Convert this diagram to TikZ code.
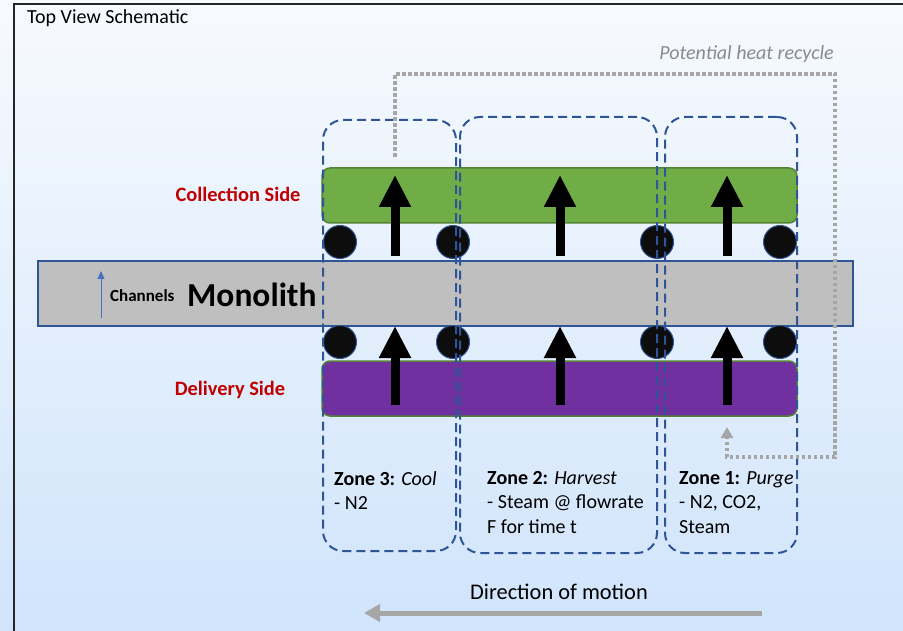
\documentclass[tikz,border=0pt]{standalone}
\usepackage{fontspec}
\setmainfont{Carlito}
\usetikzlibrary{arrows.meta}
\definecolor{bgtop}{HTML}{F7FAFE}
\definecolor{bgbot}{HTML}{D0E4FB}
\definecolor{zoneblue}{HTML}{2F5597}
\definecolor{monogray}{HTML}{BFBFBF}
\definecolor{collgreen}{HTML}{70AD47}
\definecolor{darkgreen}{HTML}{548235}
\definecolor{delpurple}{HTML}{7030A0}
\definecolor{sidered}{HTML}{C00000}
\definecolor{recgray}{HTML}{A6A6A6}
\definecolor{labgray}{HTML}{8A8A8A}
\definecolor{chanblue}{HTML}{4472C4}
\definecolor{framedark}{HTML}{262626}
\tikzset{
  monobox/.style={draw=zoneblue, line width=1.5pt, fill=monogray, minimum width=815pt, minimum height=65pt, inner sep=0pt},
  sidebox/.style={draw=darkgreen, line width=1.5pt, rounded corners=8pt, minimum width=475pt, minimum height=55pt, inner sep=0pt},
  roller/.style={circle, draw=zoneblue, line width=1pt, fill=black!95, minimum size=33pt, inner sep=0pt},
  zonebox/.style={draw=zoneblue, line width=2pt, dash pattern=on 9pt off 5pt, rounded corners=20pt, inner sep=0pt},
  flowarrow/.style={line width=9pt, -{Triangle[width=30pt 0, length=32pt 0]}},
  recycle/.style={draw=recgray, line width=3.5pt, dash pattern=on 3.5pt off 2.5pt, -{Triangle[width=12pt 0, length=11pt 0]}},
  zonetext/.style={anchor=north west, align=left, inner sep=0pt, font=\fontsize{20}{24.5}\selectfont},
  sidelabel/.style={text=sidered, font=\fontsize{20.4}{22}\selectfont\bfseries},
}
\begin{document}
\begin{tikzpicture}[x=1pt, y=-1pt]
  \useasboundingbox (0,0) rectangle (903,631);
  % backdrop and frame
  \shade[top color=bgtop, bottom color=bgbot] (0,0) rectangle (903,631);
  \draw[framedark, line width=2pt] (14,631) -- (14,4) -- (903,4);
  \node[anchor=west, inner sep=0pt, font=\fontsize{20}{22}\selectfont] (title) at (27,18) {Top View Schematic};

  % monolith, collection and delivery sides
  \node[monobox] (mono) at (445.5,293.5) {};
  \node[sidebox, fill=collgreen] (coll) at (559.5,195.5) {};
  \node[sidebox, fill=delpurple] (deliv) at (559.5,388.5) {};

  \node[sidelabel] (colllab) at (238,194) {Collection Side};
  \node[sidelabel] (delivlab) at (230,390) {Delivery Side};
  \node[anchor=west, inner sep=0pt, font=\fontsize{33.5}{36}\selectfont\bfseries] (monolab) at (187,295) {Monolith};
  \node[anchor=west, inner sep=0pt, font=\fontsize{17}{19}\selectfont\bfseries] (chanlab) at (110,296) {Channels};
  \coordinate (chanbot) at (101,318);
  \coordinate (chantop) at (101,271);
  \draw[chanblue, line width=1pt, -{Triangle[width=7pt 0, length=8pt 0]}] (chanbot) -- (chantop);

  % rollers on both sides of the monolith
  \foreach \x/\n in {340/a,453/b,657/c,780/d}{
    \node[roller] (rt\n) at (\x,242) {};
    \node[roller] (rb\n) at (\x,342) {};
  }

  % gas flow through the channels
  \foreach \x/\n in {395/a,560/b,727/c}{
    \coordinate (fdb\n) at (\x,405);
    \coordinate (fdt\n) at (\x,326);
    \coordinate (fcb\n) at (\x,256);
    \coordinate (fct\n) at (\x,175);
    \draw[flowarrow] (fdb\n) -- (fdt\n);
    \draw[flowarrow] (fcb\n) -- (fct\n);
  }

  % process zones
  \node[zonebox, minimum width=133pt, minimum height=431pt] (zone3) at (389.5,335.5) {};
  \node[zonebox, minimum width=197pt, minimum height=436pt] (zone2) at (558.5,335) {};
  \node[zonebox, minimum width=132pt, minimum height=436pt] (zone1) at (731,335) {};

  \node[zonetext] (z3txt) at (334,471) {\textbf{Zone 3:} \textit{Cool}\\- N2};
  \node[zonetext] (z2txt) at (487,471) {\textbf{Zone 2:} \textit{Harvest}\\- Steam @ flowrate\\F for time t};
  \node[zonetext] (z1txt) at (679,471) {\textbf{Zone 1:} \textit{Purge}\\- N2, CO2,\\Steam};

  % heat recycle loop
  \coordinate (rs) at (395,157);
  \coordinate (rtop) at (835,74);
  \coordinate (rbot) at (727,457);
  \coordinate (rend) at (727,427);
  \draw[recycle] (rs) |- (rtop) |- (rbot) -- (rend);
  \node[anchor=east, inner sep=0pt, text=labgray, font=\fontsize{20}{22}\selectfont\itshape] (reclab) at (834,54) {Potential heat recycle};

  % direction of motion
  \node[inner sep=0pt, font=\fontsize{22.4}{24}\selectfont] (dirlab) at (559,592) {Direction of motion};
  \coordinate (dirstart) at (762,613);
  \coordinate (dirend) at (364,613);
  \draw[recgray, line width=5pt, -{Triangle[width=17pt 0, length=16pt 0]}] (dirstart) -- (dirend);
\end{tikzpicture}
\end{document}
